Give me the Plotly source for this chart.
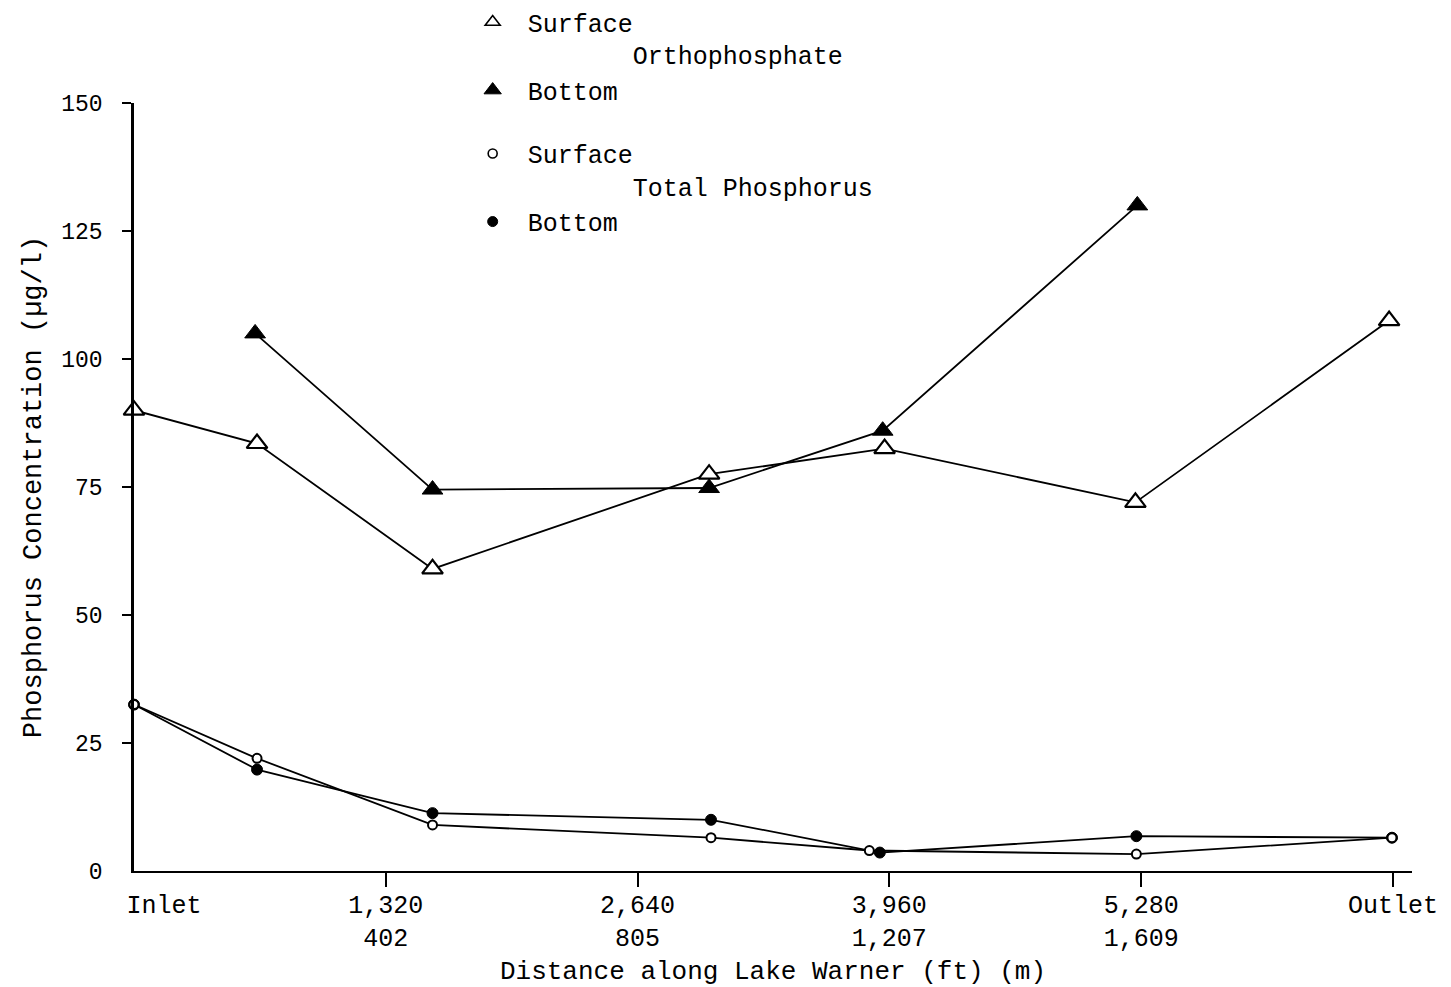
import plotly.graph_objects as go

# ---- data (distance along lake in ft; concentration in ug/l) ----
ortho_surface_x = [0, 645, 1565, 3015, 3935, 5250, 6580]
ortho_surface_y = [90, 83.5, 59, 77.5, 82.5, 72, 107.5]

ortho_bottom_x = [635, 1565, 3015, 3925, 5260]
ortho_bottom_y = [105, 74.5, 74.8, 86, 130]

tp_surface_x = [0, 645, 1565, 3025, 3855, 5255, 6595]
tp_surface_y = [32.5, 22, 9, 6.5, 4, 3.3, 6.5]

tp_bottom_x = [0, 645, 1565, 3025, 3910, 5255, 6595]
tp_bottom_y = [32.5, 19.8, 11.3, 10, 3.6, 6.8, 6.5]

x_tickvals = [0, 1320, 2640, 3960, 5280, 6600]
x_ticktext = ["\u00a0" * 4 + "Inlet", "1,320<br>402", "2,640<br>805",
              "3,960<br>1,207", "5,280<br>1,609", "Outlet"]
y_tickvals = [0, 25, 50, 75, 100, 125, 150]

FONT = "Liberation Mono"
BLACK = "black"

fig = go.Figure()

def add_series(x, y, symbol, fill, size, lw):
    fig.add_trace(go.Scatter(
        x=x, y=y, mode="lines+markers",
        line=dict(color=BLACK, width=1.8),
        marker=dict(symbol=symbol, size=size, color=fill,
                    line=dict(color=BLACK, width=lw)),
        showlegend=False, cliponaxis=False))

add_series(tp_bottom_x, tp_bottom_y, "circle", BLACK, 11, 1)
add_series(tp_surface_x, tp_surface_y, "circle", "white", 9, 2)
add_series(ortho_surface_x, ortho_surface_y, "triangle-up", "white", 18, 2.2)
add_series(ortho_bottom_x, ortho_bottom_y, "triangle-up", BLACK, 18, 1)

# legend-only entries (symbols without lines)
legend_items = [
    ("\u00a0Surface<br>" + "\u00a0" * 8 + "Orthophosphate", "triangle-up", "white", 13, 1.6, "o"),
    ("\u00a0Bottom", "triangle-up", BLACK, 15, 1, "o"),
    ("\u00a0Surface<br>" + "\u00a0" * 8 + "Total Phosphorus", "circle", "white", 9, 1.6, "t"),
    ("\u00a0Bottom", "circle", BLACK, 10, 1, "t"),
]
for name, sym, fill, size, lw, grp in legend_items:
    fig.add_trace(go.Scatter(
        x=[None], y=[None], mode="markers", name=name, legendgroup=grp,
        marker=dict(symbol=sym, size=size, color=fill,
                    line=dict(color=BLACK, width=lw))))

fig.update_layout(
    width=1451, height=987,
    margin=dict(l=134, r=39, t=103, b=116, autoexpand=False),
    paper_bgcolor="white", plot_bgcolor="white",
    font=dict(family=FONT, size=25, color=BLACK),
    showlegend=True,
    legend=dict(x=0.265, y=1.135, xanchor="left", yanchor="top",
                valign="top", tracegroupgap=28,
                font=dict(family=FONT, size=25, color=BLACK),
                bgcolor="rgba(0,0,0,0)", itemclick=False),
    xaxis=dict(
        range=[0, 6700], showgrid=False, zeroline=False, automargin=False,
        showline=True, linecolor=BLACK, linewidth=2,
        tickmode="array", tickvals=x_tickvals, ticktext=x_ticktext,
        ticks="", ticklabelstandoff=10,
        tickfont=dict(family=FONT, size=25, color=BLACK),
        minor=dict(tickmode="array", tickvals=x_tickvals[1:], ticks="outside",
                   ticklen=14, tickwidth=2, tickcolor=BLACK, showgrid=False),
        title=dict(text="\u00a0Distance along Lake Warner (ft) (m)",
                   font=dict(family=FONT, size=26, color=BLACK), standoff=8),
    ),
    yaxis=dict(
        range=[0, 150], showgrid=False, zeroline=False, automargin=False,
        showline=True, linecolor=BLACK, linewidth=2.5,
        tickmode="array", tickvals=y_tickvals,
        ticks="", ticklabelstandoff=24,
        tickfont=dict(family=FONT, size=23, color=BLACK),
        minor=dict(tickmode="array", tickvals=y_tickvals[1:], ticks="outside",
                   ticklen=9, tickwidth=1.5, tickcolor=BLACK, showgrid=False),
        title=dict(text="Phosphorus Concentration (µg/l)",
                   font=dict(family=FONT, size=27, color=BLACK), standoff=12),
    ),
)

fig.write_html("out.html")
